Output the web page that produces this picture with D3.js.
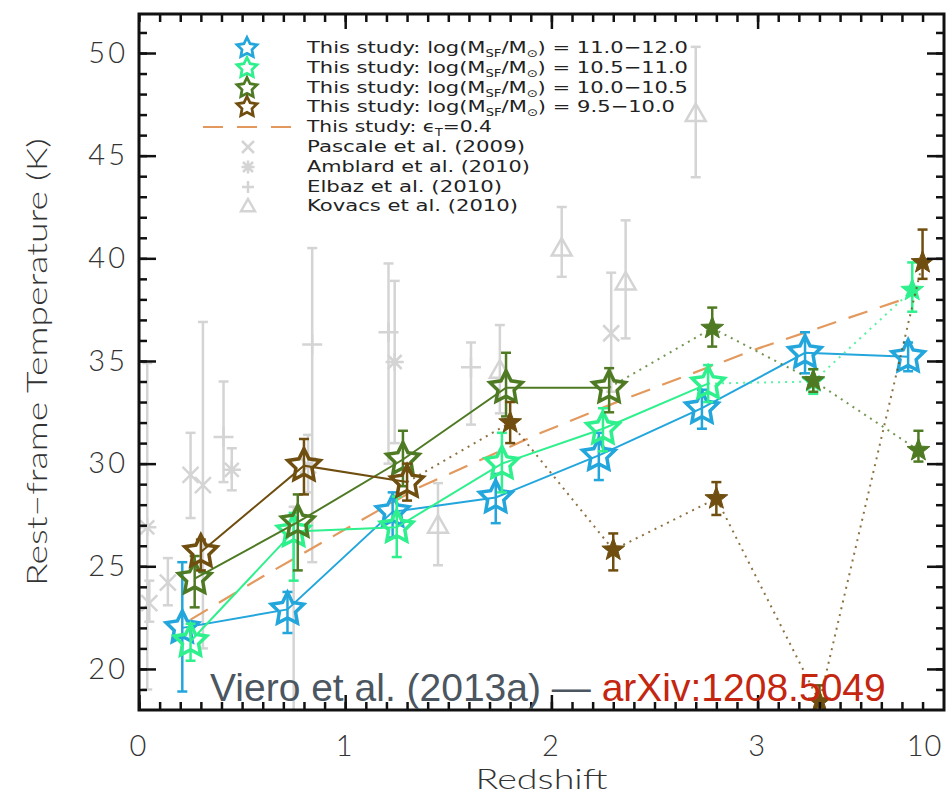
<!DOCTYPE html>
<html>
<head>
<meta charset="utf-8">
<script src="https://cdn.jsdelivr.net/npm/d3@7"></script>
<style>
  html, body { margin: 0; padding: 0; background: #fff; }
  svg { display: block; }
  .tick text { font-family: Lato, "Open Sans", sans-serif; font-weight: 300; fill: #333; letter-spacing: 3px; }
</style>
</head>
<body>
<svg id="chart"></svg>
<script>
// ---- data ----
const seriesNames = ['11.0\u221212.0', '10.5\u221211.0', '10.0\u221210.5', '9.5\u221210.0'];

const blueZ  = [0.21, 0.72, 1.23, 1.73, 2.23, 2.73, 3.23, 3.73];
const blueT  = [22.0, 22.9, 27.65, 28.35, 30.4, 32.7, 35.4, 35.2];
const blueLo = [18.9, 21.75, 26.4, 27.1, 29.2, 31.7, 34.4, 34.5];
const blueHi = [25.2, 23.75, 28.6, 29.5, 31.5, 33.6, 36.4, 35.9];

const greenZ  = [0.25, 0.75, 1.25, 1.76, 2.25, 2.76, 3.27, 3.75];
const greenT  = [21.35, 26.7, 26.9, 30.0, 31.7, 33.9, 34.0, 38.45];
const greenLo = [20.4, 24.3, 25.45, 28.6, 30.6, 33.0, 33.4, 37.4];
const greenHi = [22.2, 27.6, 28.4, 31.5, 32.7, 34.8, 34.6, 39.8];

const dgreenZ  = [0.27, 0.77, 1.28, 1.78, 2.28, 2.78, 3.27, 3.78];
const dgreenT  = [24.4, 27.15, 30.2, 33.7, 33.7, 36.6, 34.05, 30.65];
const dgreenLo = [23.0, 24.8, 28.9, 32.3, 32.5, 35.7, 33.5, 30.1];
const dgreenHi = [25.5, 28.5, 31.6, 35.4, 34.65, 37.6, 34.6, 31.6];

const brownZ  = [0.30, 0.80, 1.30, 1.80, 2.30, 2.80, 3.30, 3.80];
const brownT  = [25.7, 29.9, 29.1, 32.0, 25.8, 28.3, 18.4, 39.8];
const brownLo = [24.8, 28.5, 28.2, 31.0, 24.8, 27.5, 17.6, 39.0];
const brownHi = [26.3, 31.2, 30.0, 33.0, 26.6, 29.1, 19.2, 41.4];

// number of leading points drawn as open stars (rest are filled, joined by dots)
const openCounts = [8, 6, 5, 3];

// epsilon_T = 0.4 model curve
const modelZ = [0.25, 0.6, 1.0, 1.36, 1.95, 2.33, 3.0, 3.75];
const modelT = [22.4, 24.5, 26.8, 28.85, 31.5, 33.05, 35.6, 38.15];

// literature points (grey)
const pascaleZ  = [0.05, 0.14, 0.25, 0.31, 0.82, 2.29];
const pascaleT  = [23.2, 24.2, 29.45, 28.95, 29.9, 36.35];
const pascaleLo = [22.3, 23.1, 27.35, 21.0, 28.6, 33.5];
const pascaleHi = [24.3, 25.4, 31.5, 36.9, 31.4, 39.3];

const amblardZ  = [0.04, 0.45, 1.24];
const amblardT  = [26.9, 29.7, 34.95];
const amblardLo = [19.0, 28.7, 31.0];
const amblardHi = [34.9, 30.75, 38.9];

const elbazZ  = [0.41, 0.84, 1.21, 1.61];
const elbazT  = [31.3, 35.8, 36.4, 34.7];
const elbazLo = [29.1, 25.2, 30.0, 31.9];
const elbazHi = [34.0, 40.5, 39.75, 35.9];

const kovacsZ  = [0.75, 1.45, 1.75, 2.05, 2.36, 2.70];
const kovacsT  = [16.5, 27.0, 34.55, 40.5, 38.85, 47.05];
const kovacsLo = [5.0, 25.05, 32.45, 39.1, 36.1, 43.95];
const kovacsHi = [27.9, 29.05, 36.75, 42.5, 41.85, 50.3];

const litNames = ['Pascale et al. (2009)', 'Amblard et al. (2010)', 'Elbaz et al. (2010)', 'Kovacs et al. (2010)'];

const xTickLabels = ['0', '1', '2', '3'];
const yTickValues = [20, 25, 30, 35, 40, 45, 50];

// ---- layout ----
const W = 949, H = 797;
const mLeft = 139, mRight = 944, mTop = 14, mBottom = 710;
const colors = ['#22a6dc', '#2ef08c', '#4f7a24', '#6f4e10'];
const grey = '#d4d4d4';
const labelFont = 'Lato, "Open Sans", sans-serif';

const svg = d3.select('#chart').attr('width', W).attr('height', H);

const x = d3.scaleLinear().domain([0, 3.904]).range([mLeft, mRight]);
const y = d3.scaleLinear().domain([18, 51.9]).range([mBottom, mTop]);

svg.append('clipPath').attr('id', 'plotclip')
  .append('rect').attr('x', mLeft).attr('y', mTop).attr('width', mRight - mLeft).attr('height', mBottom - mTop);

const plot = svg.append('g').attr('clip-path', 'url(#plotclip)');

function starPath(R, ratio) {
  const pts = [];
  for (let i = 0; i < 10; i++) {
    const r = i % 2 ? R * ratio : R;
    const a = -Math.PI / 2 + i * Math.PI / 5;
    pts.push([r * Math.cos(a), r * Math.sin(a)]);
  }
  return 'M' + pts.map(p => p[0].toFixed(2) + ',' + p[1].toFixed(2)).join('L') + 'Z';
}

function errBars(g, zs, lo, hi, color, cap, width) {
  zs.forEach((z, i) => {
    const cx = x(z);
    g.append('line').attr('x1', cx).attr('x2', cx).attr('y1', y(lo[i])).attr('y2', y(hi[i]))
      .attr('stroke', color).attr('stroke-width', width);
    [lo[i], hi[i]].forEach(v => {
      g.append('line').attr('x1', cx - cap).attr('x2', cx + cap).attr('y1', y(v)).attr('y2', y(v))
        .attr('stroke', color).attr('stroke-width', width);
    });
  });
}

// ---- grey literature markers ----
const gLit = plot.append('g');
errBars(gLit, pascaleZ, pascaleLo, pascaleHi, grey, 5, 2.5);
errBars(gLit, amblardZ, amblardLo, amblardHi, grey, 5, 2.5);
errBars(gLit, elbazZ, elbazLo, elbazHi, grey, 5, 2.5);
errBars(gLit, kovacsZ, kovacsLo, kovacsHi, grey, 5, 2.5);

function crossMark(g, cx, cy, s) {
  g.append('path').attr('d', `M${cx - s},${cy - s}L${cx + s},${cy + s}M${cx - s},${cy + s}L${cx + s},${cy - s}`)
    .attr('stroke', grey).attr('stroke-width', 2.5).attr('fill', 'none');
}
function asteriskMark(g, cx, cy, s) {
  crossMark(g, cx, cy, s);
  g.append('path').attr('d', `M${cx - s * 1.3},${cy}L${cx + s * 1.3},${cy}M${cx},${cy - s * 1.3}L${cx},${cy + s * 1.3}`)
    .attr('stroke', grey).attr('stroke-width', 2.5);
}
function plusMark(g, cx, cy, s) {
  g.append('path').attr('d', `M${cx - s},${cy}L${cx + s},${cy}M${cx},${cy - s}L${cx},${cy + s}`)
    .attr('stroke', grey).attr('stroke-width', 2.5);
}
function triMark(g, cx, cy, s) {
  g.append('path').attr('d', `M${cx},${cy - s}L${cx + s},${cy + s * 0.75}L${cx - s},${cy + s * 0.75}Z`)
    .attr('stroke', grey).attr('stroke-width', 2.5).attr('fill', 'none');
}
pascaleZ.forEach((z, i) => crossMark(gLit, x(z), y(pascaleT[i]), 8));
amblardZ.forEach((z, i) => asteriskMark(gLit, x(z), y(amblardT[i]), 7));
elbazZ.forEach((z, i) => plusMark(gLit, x(z), y(elbazT[i]), 10));
kovacsZ.forEach((z, i) => triMark(gLit, x(z), y(kovacsT[i]), 10));

// ---- model dashed curve ----
const line = d3.line().x(d => x(d[0])).y(d => y(d[1]));
plot.append('path').datum(modelZ.map((z, i) => [z, modelT[i]]))
  .attr('d', line).attr('fill', 'none').attr('stroke', '#e3995e').attr('stroke-width', 2.2)
  .attr('stroke-dasharray', '20,13');

// ---- this study series ----
const series = [
  [blueZ, blueT, blueLo, blueHi],
  [greenZ, greenT, greenLo, greenHi],
  [dgreenZ, dgreenT, dgreenLo, dgreenHi],
  [brownZ, brownT, brownLo, brownHi]
];

const openStar = starPath(17, 0.5);
const filledStar = starPath(12, 0.42);

series.forEach((s, k) => {
  const [zs, ts, lo, hi] = s;
  const col = colors[k];
  const n = openCounts[k];
  const pts = zs.map((z, i) => [z, ts[i]]);
  const g = plot.append('g');
  g.append('path').datum(pts.slice(0, n)).attr('d', line)
    .attr('fill', 'none').attr('stroke', col).attr('stroke-width', 2);
  if (n < pts.length) {
    g.append('path').datum(pts.slice(n - 1)).attr('d', line)
      .attr('fill', 'none').attr('stroke', col).attr('stroke-width', 2)
      .attr('stroke-dasharray', '2,5').attr('stroke-opacity', 0.8);
  }
  errBars(g, zs, lo, hi, col, 5, 2.5);
  g.selectAll('path.star').data(pts).join('path')
    .attr('class', 'star')
    .attr('transform', d => `translate(${x(d[0])},${y(d[1])})`)
    .attr('d', (d, i) => i < n ? openStar : filledStar)
    .attr('fill', (d, i) => i < n ? 'none' : col)
    .attr('stroke', col)
    .attr('stroke-width', (d, i) => i < n ? 3.5 : 1)
    .attr('stroke-linejoin', 'miter');
});

// ---- axes ----
function styleAxis(g) {
  g.select('.domain').remove();
  g.selectAll('.tick line').attr('stroke', '#111').attr('stroke-width', 2.5);
}
const yMinor = d3.range(19, 52);
const xMinor = d3.range(0, 39).map(i => i / 10);

svg.append('g').attr('transform', `translate(${mLeft},0)`)
  .call(d3.axisLeft(y).tickValues(yMinor).tickSize(-8).tickFormat('')).call(styleAxis);
svg.append('g').attr('transform', `translate(${mLeft},0)`)
  .call(d3.axisLeft(y).tickValues(yTickValues).tickSize(-17).tickPadding(11)).call(styleAxis)
  .selectAll('text').attr('font-size', 29);

svg.append('g').attr('transform', `translate(${mRight},0)`)
  .call(d3.axisRight(y).tickValues(yMinor).tickSize(-8).tickFormat('')).call(styleAxis);
svg.append('g').attr('transform', `translate(${mRight},0)`)
  .call(d3.axisRight(y).tickValues(yTickValues).tickSize(-17).tickFormat('')).call(styleAxis);

svg.append('g').attr('transform', `translate(0,${mBottom})`)
  .call(d3.axisBottom(x).tickValues(xMinor).tickSize(-8).tickFormat('')).call(styleAxis);
svg.append('g').attr('transform', `translate(0,${mBottom})`)
  .call(d3.axisBottom(x).tickValues([0, 1, 2, 3]).tickSize(-15).tickPadding(25)
    .tickFormat((d, i) => xTickLabels[i])).call(styleAxis)
  .selectAll('text').attr('font-size', 29);

svg.append('g').attr('transform', `translate(0,${mTop})`)
  .call(d3.axisTop(x).tickValues(xMinor).tickSize(-8).tickFormat('')).call(styleAxis);
svg.append('g').attr('transform', `translate(0,${mTop})`)
  .call(d3.axisTop(x).tickValues([1, 2, 3]).tickSize(-15).tickFormat('')).call(styleAxis);

// frame
svg.append('rect').attr('x', mLeft).attr('y', mTop).attr('width', mRight - mLeft).attr('height', mBottom - mTop)
  .attr('fill', 'none').attr('stroke', '#111').attr('stroke-width', 3);

// spliced label from the neighbouring panel
svg.append('text').attr('x', x(3.81)).attr('y', 756).attr('text-anchor', 'middle')
  .attr('font-family', labelFont).attr('font-weight', 300).attr('letter-spacing', 1)
  .attr('font-size', 29).attr('fill', '#333').text('10');

// axis titles
svg.append('text').attr('x', (mLeft + mRight) / 2).attr('y', 789).attr('text-anchor', 'middle')
  .attr('font-family', labelFont).attr('font-weight', 300)
  .attr('font-size', 27).attr('fill', '#333')
  .attr('textLength', 132).attr('lengthAdjust', 'spacingAndGlyphs').text('Redshift');
svg.append('text').attr('transform', `translate(47,${(mTop + mBottom) / 2}) rotate(-90)`)
  .attr('text-anchor', 'middle')
  .attr('font-family', labelFont).attr('font-weight', 300)
  .attr('font-size', 28).attr('fill', '#333')
  .attr('textLength', 448).attr('lengthAdjust', 'spacingAndGlyphs')
  .text('Rest\u2212frame Temperature (K)');

// ---- legend ----
const leg = svg.append('g').attr('font-family', '"DejaVu Sans", sans-serif').attr('font-size', 16).attr('fill', '#222');
const legY = [48, 68, 88, 107];
const legLen = [381, 381, 381, 368];
const legStar = starPath(10.5, 0.5);
seriesNames.forEach((name, k) => {
  leg.append('path').attr('d', legStar).attr('transform', `translate(247,${legY[k]})`)
    .attr('fill', 'none').attr('stroke', colors[k]).attr('stroke-width', 2.8);
  const t = leg.append('text').attr('x', 307).attr('y', legY[k] + 5)
    .attr('textLength', legLen[k]).attr('lengthAdjust', 'spacingAndGlyphs');
  t.append('tspan').text('This study: log(M');
  t.append('tspan').attr('font-size', 10).attr('dy', 4).text('SF');
  t.append('tspan').attr('dy', -4).text('/M');
  t.append('tspan').attr('font-size', 10).attr('dy', 4).text('\u2299');
  t.append('tspan').attr('dy', -4).text(')  =  ' + name);
});
leg.append('line').attr('x1', 203).attr('x2', 291).attr('y1', 127).attr('y2', 127)
  .attr('stroke', '#e3995e').attr('stroke-width', 2.2).attr('stroke-dasharray', '20,14');
const et = leg.append('text').attr('x', 307).attr('y', 132)
  .attr('textLength', 185).attr('lengthAdjust', 'spacingAndGlyphs');
et.append('tspan').text('This study: \u03f5');
et.append('tspan').attr('font-size', 10).attr('dy', 4).text('T');
et.append('tspan').attr('dy', -4).text('=0.4');

const litY = [147, 167, 187, 206];
const litLen = [218, 223, 195, 211];
const lg = leg.append('g');
crossMark(lg, 248, litY[0], 6);
asteriskMark(lg, 248, litY[1], 5);
plusMark(lg, 248, litY[2], 6);
triMark(lg, 248, litY[3], 7);
litNames.forEach((name, k) => {
  leg.append('text').attr('x', 307).attr('y', litY[k] + 5)
    .attr('textLength', litLen[k]).attr('lengthAdjust', 'spacingAndGlyphs').text(name);
});

// ---- credit line ----
const credit = svg.append('text').attr('x', 210).attr('y', 701)
  .attr('font-family', '"Liberation Sans", Arial, sans-serif').attr('font-size', 39);
credit.append('tspan').attr('fill', '#4b5660').text('Viero et al. (2013a) \u2014 ');
credit.append('tspan').attr('fill', '#c4260f').text('arXiv:1208.5049');
</script>
</body>
</html>
